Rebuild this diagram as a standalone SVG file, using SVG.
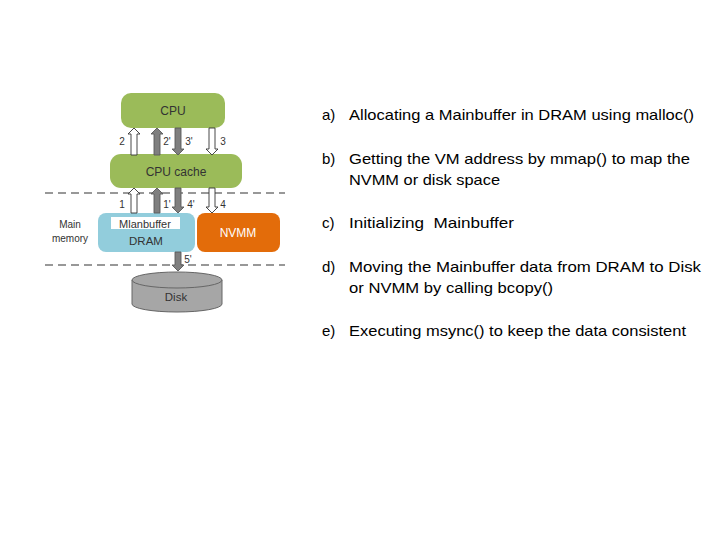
<svg xmlns="http://www.w3.org/2000/svg" width="720" height="540" viewBox="0 0 720 540">
<style>
.g{fill:#9bbb59;}
.t{font-family:"Liberation Sans",Arial,sans-serif;}
.lab{font-family:"Liberation Sans",Arial,sans-serif;font-size:10px;fill:#333;}
.wa{fill:#fff;stroke:#333;stroke-width:0.9;}
.ga{fill:#7f7f7f;stroke:#595959;stroke-width:0.9;}
.txt{font-family:"Liberation Sans",Arial,sans-serif;font-size:15px;fill:#000;}
</style>
<rect width="720" height="540" fill="#fff"/>
<g id="dashes" stroke="#333" stroke-width="1.2" stroke-dasharray="8,5">
<line x1="45" y1="193" x2="285" y2="193"/>
<line x1="45" y1="265" x2="285" y2="265"/>
</g>
<g id="cpu">
<rect x="121" y="93" width="104" height="35" rx="10" class="g"/>
<text x="173" y="115" text-anchor="middle" class="t" font-size="12" fill="#333">CPU</text>
</g>
<g id="cache">
<rect x="110" y="154" width="132" height="34" rx="11" class="g"/>
<text x="176" y="176" text-anchor="middle" class="t" font-size="12" fill="#333">CPU cache</text>
</g>
<g id="dram">
<rect x="98" y="213" width="97" height="39" rx="8" fill="#92cddc"/>
<rect x="111" y="217" width="69" height="12" fill="#fff"/>
<text x="145" y="227.5" text-anchor="middle" class="t" font-size="11" fill="#333">Mlanbuffer</text>
<text x="146" y="245" text-anchor="middle" class="t" font-size="11.5" fill="#333">DRAM</text>
</g>
<g id="nvmm">
<rect x="197" y="213" width="83" height="39" rx="8" fill="#e36c0a"/>
<text x="238" y="237" text-anchor="middle" class="t" font-size="12" fill="#fff">NVMM</text>
</g>
<g id="mainmem">
<text x="70" y="228" text-anchor="middle" class="lab" font-size="9.5">Main</text>
<text x="70" y="242" text-anchor="middle" class="lab" font-size="9.5">memory</text>
</g>
<g id="disk">
<path d="M132 280 L132 304 A45 8 0 0 0 222 304 L222 280" fill="#a6a6a6" stroke="#666" stroke-width="1"/>
<ellipse cx="177" cy="280" rx="45" ry="8" fill="#a6a6a6" stroke="#666" stroke-width="1"/>
<text x="176" y="301" text-anchor="middle" class="t" font-size="11.5" fill="#333">Disk</text>
</g>
<g id="connectors">
<polygon class="wa" points="131,155 131,134 128,134 134,128 140,134 137,134 137,155"/>
<polygon class="ga" points="154,155 154,134 151,134 157,128 163,134 160,134 160,155"/>
<polygon class="ga" points="175,128 175,149 172,149 178,155 184,149 181,149 181,128"/>
<polygon class="wa" points="209,128 209,149 206,149 212,155 218,149 215,149 215,128"/>
<polygon class="wa" points="131,213 131,194 128,194 134,188 140,194 137,194 137,213"/>
<polygon class="ga" points="154,213 154,194 151,194 157,188 163,194 160,194 160,213"/>
<polygon class="ga" points="175,188 175,207 172,207 178,213 184,207 181,207 181,188"/>
<polygon class="wa" points="209,188 209,207 206,207 212,213 218,207 215,207 215,188"/>
<polygon class="ga" points="175,252 175,265 172,265 178,271 184,265 181,265 181,252"/>
<text class="lab" x="122" y="145" text-anchor="middle">2</text>
<text class="lab" x="167" y="145" text-anchor="middle">2'</text>
<text class="lab" x="189" y="145" text-anchor="middle">3'</text>
<text class="lab" x="223" y="145" text-anchor="middle">3</text>
<text class="lab" x="122" y="208" text-anchor="middle">1</text>
<text class="lab" x="167" y="208" text-anchor="middle">1'</text>
<text class="lab" x="191" y="208" text-anchor="middle">4'</text>
<text class="lab" x="223" y="208" text-anchor="middle">4</text>
<text class="lab" x="188" y="263" text-anchor="middle">5'</text>
</g>
<g id="list">
<text class="txt" x="322" y="120">a)</text>
<text class="txt" x="349" y="120" textLength="345" lengthAdjust="spacingAndGlyphs">Allocating a Mainbuffer in DRAM using malloc()</text>
<text class="txt" x="322" y="164">b)</text>
<text class="txt" x="349" y="164" textLength="341" lengthAdjust="spacingAndGlyphs">Getting the VM address by mmap() to map the</text>
<text class="txt" x="349" y="185" textLength="151" lengthAdjust="spacingAndGlyphs">NVMM or disk space</text>
<text class="txt" x="322" y="228">c)</text>
<text class="txt" x="349" y="228" textLength="165" lengthAdjust="spacingAndGlyphs" xml:space="preserve">Initializing  Mainbuffer</text>
<text class="txt" x="322" y="272">d)</text>
<text class="txt" x="349" y="272" textLength="352" lengthAdjust="spacingAndGlyphs">Moving the Mainbuffer data from DRAM to Disk</text>
<text class="txt" x="349" y="293" textLength="204" lengthAdjust="spacingAndGlyphs">or NVMM by calling bcopy()</text>
<text class="txt" x="322" y="336">e)</text>
<text class="txt" x="349" y="336" textLength="337" lengthAdjust="spacingAndGlyphs">Executing msync() to keep the data consistent</text>
</g>
</svg>
